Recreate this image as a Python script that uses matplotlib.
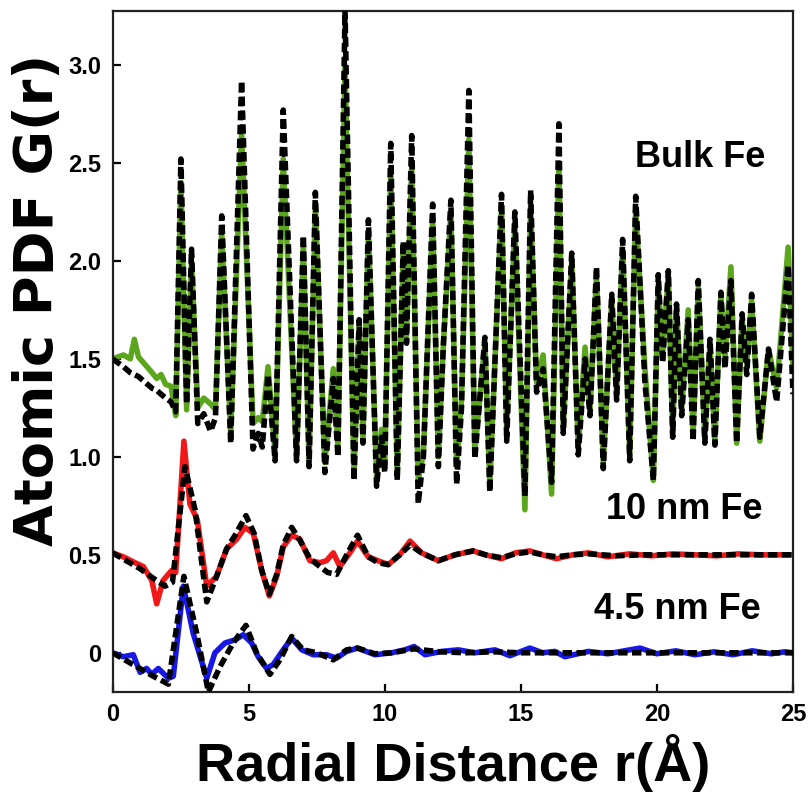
import matplotlib
matplotlib.use("Agg")
import matplotlib.pyplot as plt

# ---------------- data: atomic PDFs G(r) (offset for clarity) ----------------
# Bulk Fe: experimental and model share the same r grid
bulk_r = [0.00, 0.40, 0.65, 0.80, 0.95, 1.20, 1.45, 1.62, 1.78, 1.95, 2.15, 2.32,
          2.51, 2.72, 2.90, 3.13, 3.35, 3.60, 3.78, 4.01, 4.34, 4.74, 5.16, 5.35,
          5.50, 5.71, 5.97, 6.27, 6.76, 7.01, 7.22, 7.45, 7.80, 8.11, 8.28, 8.54,
          8.87, 9.06, 9.20, 9.40, 9.70, 9.88, 10.00, 10.22, 10.46, 10.68, 10.80,
          10.99, 11.23, 11.42, 11.76, 11.97, 12.15, 12.43, 12.64, 12.82, 13.09,
          13.31, 13.68, 13.86, 14.29, 14.48, 14.78, 15.15, 15.36, 15.58, 15.82,
          16.13, 16.40, 16.56, 16.87, 17.11, 17.36, 17.54, 17.78, 18.03, 18.34,
          18.52, 18.74, 19.00, 19.22, 19.56, 19.87, 20.05, 20.21, 20.42, 20.58,
          20.72, 20.91, 21.15, 21.33, 21.52, 21.76, 21.95, 22.13, 22.35, 22.50,
          22.72, 22.93, 23.13, 23.30, 23.48, 23.78, 24.10, 24.40, 24.82, 25.00]
bulk_fit = [1.50, 1.46, 1.43, 1.42, 1.41, 1.38, 1.35, 1.34, 1.32, 1.30, 1.28, 1.23,
            2.52, 1.27, 2.06, 1.17, 1.22, 1.13, 1.20, 2.23, 1.07, 2.92, 1.04, 1.12,
            1.05, 1.42, 0.98, 2.77, 0.98, 2.13, 0.95, 2.35, 0.92, 1.40, 1.00, 3.28,
            0.88, 1.70, 1.07, 2.21, 0.85, 1.10, 0.92, 2.60, 0.88, 2.10, 1.58,
            2.64, 0.76, 1.00, 2.29, 0.95, 1.56, 2.31, 0.86, 1.25, 2.87,
            0.99, 1.61, 0.82, 2.34, 1.08, 2.25, 0.80, 2.36, 1.33, 1.45,
            0.87, 2.70, 1.12, 2.04, 1.01, 1.50, 1.21, 1.97, 0.94, 1.83,
            1.29, 2.11, 0.98, 2.33, 1.38, 0.88, 1.93, 1.48, 1.95, 1.10,
            1.78, 1.21, 1.70, 1.08, 1.90, 1.07, 1.60, 1.06, 1.84, 1.45,
            1.90, 1.07, 1.73, 1.42, 1.83, 1.10, 1.55, 1.28, 1.98, 1.32]
bulk_exp = [1.50, 1.52, 1.50, 1.60, 1.51, 1.47, 1.43, 1.40, 1.42, 1.37, 1.36, 1.21,
            2.40, 1.24, 2.00, 1.25, 1.30, 1.27, 1.24, 2.15, 1.12, 2.66, 1.17, 1.20,
            1.18, 1.46, 1.02, 2.52, 1.00, 2.08, 0.98, 2.28, 0.97, 1.45, 1.05, 3.00,
            0.91, 1.68, 1.10, 2.15, 0.90, 1.14, 0.96, 2.45, 0.92, 2.05, 1.62,
            2.48, 0.88, 1.02, 2.22, 1.00, 1.56, 2.25, 0.95, 1.29, 2.62,
            1.03, 1.58, 0.86, 2.28, 1.15, 2.18, 0.73, 2.28, 1.38, 1.52,
            0.81, 2.50, 1.15, 2.00, 1.05, 1.56, 1.24, 1.93, 0.97, 1.80,
            1.32, 2.06, 1.02, 2.26, 1.45, 0.88, 1.88, 1.52, 1.93, 1.12,
            1.76, 1.25, 1.75, 1.12, 1.86, 1.10, 1.58, 1.08, 1.82, 1.50,
            1.97, 1.07, 1.70, 1.48, 1.80, 1.08, 1.55, 1.35, 2.07, 1.45]

# 10 nm Fe (offset +0.5)
nm10_r_exp = [0.00, 0.39, 0.82, 1.13, 1.44, 1.62, 1.86, 2.17, 2.32, 2.62, 2.84,
              3.11, 3.46, 3.82, 4.19, 4.56, 4.86, 5.17, 5.48, 5.76, 6.03, 6.27,
              6.58, 6.88, 7.25, 7.62, 7.86, 8.11, 8.35, 8.72, 9.00, 9.39, 9.75,
              10.13, 10.55, 10.93, 11.35, 11.97, 12.58, 13.25, 13.70, 14.29, 14.80,
              15.33, 15.80, 16.31, 16.90, 17.48, 18.20, 19.00, 19.80, 20.60,
              21.40, 22.20, 23.00, 23.80, 24.50, 25.00]
nm10_exp = [0.51, 0.49, 0.46, 0.44, 0.37, 0.25, 0.37, 0.42, 0.41, 1.08, 0.76,
            0.68, 0.34, 0.39, 0.53, 0.58, 0.64, 0.61, 0.42, 0.29, 0.39, 0.54,
            0.60, 0.58, 0.47, 0.46, 0.47, 0.51, 0.44, 0.51, 0.57, 0.49, 0.47,
            0.45, 0.50, 0.57, 0.51, 0.47, 0.50, 0.52, 0.50, 0.48, 0.51,
            0.52, 0.50, 0.48, 0.50, 0.51, 0.49, 0.505, 0.495, 0.505,
            0.50, 0.495, 0.505, 0.50, 0.50, 0.50]
nm10_r_fit = [0.00, 0.50, 1.00, 1.50, 1.93, 2.20, 2.66, 3.03, 3.46, 3.82, 4.19,
              4.50, 4.90, 5.20, 5.48, 5.76, 6.03, 6.27, 6.58, 6.90, 7.25, 7.62,
              7.90, 8.23, 8.60, 9.00, 9.39, 9.75, 10.13, 10.55, 10.93, 11.35,
              11.97, 12.58, 13.25, 13.70, 14.29, 14.80, 15.33, 15.80, 16.31,
              16.90, 17.48, 18.50, 19.50, 20.50, 21.50, 22.50, 23.50, 24.50, 25.00]
nm10_fit = [0.51, 0.47, 0.43, 0.38, 0.34, 0.36, 0.95, 0.73, 0.26, 0.39, 0.53,
            0.60, 0.70, 0.61, 0.42, 0.30, 0.40, 0.55, 0.64, 0.57, 0.48, 0.44,
            0.41, 0.40, 0.50, 0.60, 0.49, 0.46, 0.45, 0.50, 0.55, 0.51,
            0.47, 0.50, 0.52, 0.50, 0.485, 0.505, 0.515, 0.50, 0.49,
            0.50, 0.505, 0.495, 0.50, 0.50, 0.50, 0.50, 0.50, 0.50, 0.50]

# 4.5 nm Fe (no offset)
nm45_r_exp = [0.00, 0.39, 0.76, 1.01, 1.25, 1.44, 1.68, 2.05, 2.23, 2.60, 2.96,
              3.46, 3.76, 4.13, 4.50, 4.80, 5.11, 5.35, 5.66, 5.90, 6.27, 6.58,
              6.95, 7.37, 7.86, 8.23, 8.60, 9.00, 9.64, 10.25, 10.74, 11.08,
              11.48, 12.09, 12.70, 13.31, 14.05, 14.60, 15.33, 15.80, 16.25,
              16.62, 17.48, 18.20, 18.80, 19.38, 20.00, 20.70, 21.40, 22.10,
              22.80, 23.50, 24.20, 24.70, 25.00]
nm45_exp = [0.0, -0.02, -0.01, -0.10, -0.08, -0.11, -0.08, -0.13, -0.12, 0.34, 0.10,
            -0.13, 0.0, 0.05, 0.066, 0.092, 0.05, -0.02, -0.08, -0.06, 0.015, 0.075,
            0.015, -0.01, -0.01, -0.027, 0.007, 0.024, -0.01, 0.0, 0.015, 0.032,
            -0.01, 0.007, 0.015, 0.0, 0.015, -0.015, 0.024, 0.0, 0.007,
            -0.02, 0.007, -0.005, 0.01, 0.024, -0.005, 0.01, -0.01, 0.005,
            -0.01, 0.01, -0.005, 0.005, 0.0]
nm45_r_fit = [0.00, 0.50, 1.00, 1.50, 2.05, 2.62, 3.09, 3.52, 3.95, 4.43, 4.90,
              5.29, 5.78, 6.15, 6.58, 7.00, 7.50, 8.11, 8.60, 9.00, 9.64, 10.25,
              11.08, 12.00, 13.00, 14.00, 15.00, 16.00, 17.00, 18.00, 19.00,
              20.00, 21.00, 22.00, 23.00, 24.00, 25.00]
nm45_fit = [0.0, -0.04, -0.08, -0.12, -0.16, 0.39, 0.10, -0.20, -0.07, 0.05, 0.14,
            0.0, -0.11, -0.036, 0.083, 0.015, 0.0, -0.036, 0.015, 0.024, -0.005, 0.0,
            0.02, 0.005, 0.0, 0.005, 0.0, 0.0, 0.0, 0.0, 0.0,
            0.0, 0.0, 0.0, 0.0, 0.0, 0.0]

x_ticks = [0, 5, 10, 15, 20, 25]
y_ticks = [0, 0.5, 1.0, 1.5, 2.0, 2.5, 3.0]
y_tick_labels = ["0", "0.5", "1.0", "1.5", "2.0", "2.5", "3.0"]

# ---------------- figure ----------------
fig = plt.figure(figsize=(8.10, 7.94), dpi=100)
ax = fig.add_axes([0.139, 0.1285, 0.840, 0.8575])

lw = 4.0
dash = (1.7, 0.8)
ax.plot(bulk_r, bulk_exp, color="#5ca61e", lw=lw, solid_joinstyle="round", zorder=2)
ax.plot(bulk_r, bulk_fit, color="black", lw=lw, ls=(0, dash), dash_capstyle="butt", zorder=3)
ax.plot(nm10_r_exp, nm10_exp, color="#f01818", lw=lw, solid_joinstyle="round", zorder=2)
ax.plot(nm10_r_fit, nm10_fit, color="black", lw=lw, ls=(0, dash), dash_capstyle="butt", zorder=3)
ax.plot(nm45_r_exp, nm45_exp, color="#1818e6", lw=lw, solid_joinstyle="round", zorder=2)
ax.plot(nm45_r_fit, nm45_fit, color="black", lw=lw, ls=(0, dash), dash_capstyle="butt", zorder=3)

ax.set_xlim(0, 25)
ax.set_ylim(-0.2, 3.275)
ax.set_xticks(x_ticks)
ax.set_yticks(y_ticks)
ax.set_yticklabels(y_tick_labels)
ax.tick_params(direction="in", length=6, width=1.6, top=False, right=False, pad=8)
for lab in ax.get_xticklabels() + ax.get_yticklabels():
    lab.set_fontfamily("Liberation Sans")
    lab.set_fontweight("bold")
    lab.set_fontsize(17)
for sp in ax.spines.values():
    sp.set_linewidth(1.6)
    sp.set_color("#222222")

ax.set_xlabel("Radial Distance r(Å)", family="Liberation Sans", weight="bold", fontsize=39)
ax.xaxis.set_label_coords(0.5, -0.062, transform=ax.transAxes)
ax.set_ylabel("Atomic PDF G(r)", family="DejaVu Sans", weight="bold", fontsize=39)
ax.yaxis.set_label_coords(-0.0714, 0.576, transform=ax.transAxes)

for txt, x, y in [("Bulk Fe", 21.6, 2.53), ("10 nm Fe", 21.0, 0.73), ("4.5 nm Fe", 20.75, 0.22)]:
    ax.text(x, y, txt, family="Liberation Sans", weight="bold", fontsize=26,
            ha="center", va="center", zorder=5)

fig.savefig("out.png", dpi=100)
